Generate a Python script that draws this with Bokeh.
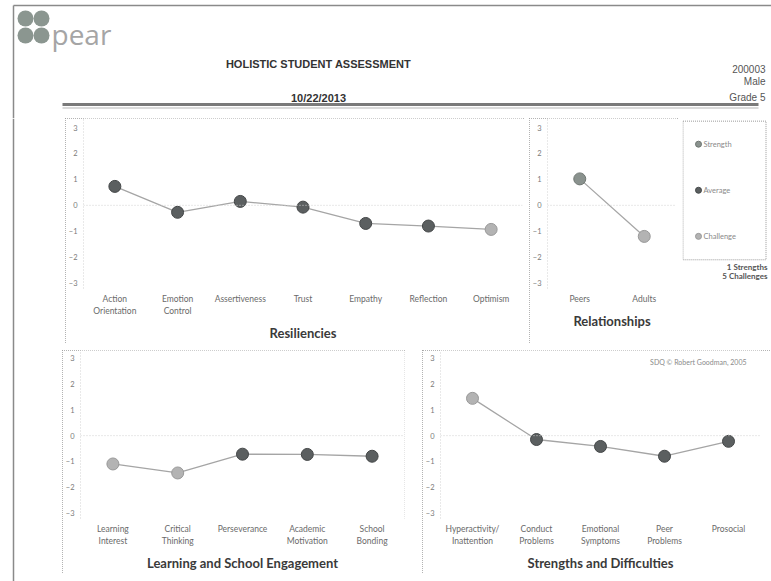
from bokeh.plotting import figure
from bokeh.layouts import row, column
from bokeh.models import Range1d, FactorRange, FixedTicker, Span
from bokeh.core.properties import value
from bokeh.embed import file_html
from bokeh.resources import INLINE

# ---------------- data ----------------
res_cats = ["Action\nOrientation", "Emotion\nControl", "Assertiveness", "Trust",
            "Empathy", "Reflection", "Optimism"]
res_vals = [0.73, -0.27, 0.15, -0.07, -0.70, -0.80, -0.93]
res_status = ["average", "average", "average", "average", "average", "average", "challenge"]

rel_cats = ["Peers", "Adults"]
rel_vals = [1.02, -1.20]
rel_status = ["strength", "challenge"]

lse_cats = ["Learning\nInterest", "Critical\nThinking", "Perseverance",
            "Academic\nMotivation", "School\nBonding"]
lse_vals = [-1.10, -1.45, -0.72, -0.73, -0.80]
lse_status = ["challenge", "challenge", "average", "average", "average"]

sdq_cats = ["Hyperactivity/\nInattention", "Conduct\nProblems", "Emotional\nSymptoms",
            "Peer\nProblems", "Prosocial"]
sdq_vals = [1.45, -0.15, -0.42, -0.80, -0.22]
sdq_status = ["challenge", "average", "average", "average", "average"]

y_ticks = [-3, -2, -1, 0, 1, 2, 3]
legend_keys = ["strength", "average", "challenge"]
legend_labels = ["Strength", "Average", "Challenge"]

header_title = "HOLISTIC STUDENT ASSESSMENT"
header_date = "10/22/2013"
student_info = ["200003", "Male", "Grade 5"]
copyright_note = "SDQ \u00a9 Robert Goodman, 2005"

# ---------------- style ----------------
COLORS = {"strength": "#8a928e", "average": "#5b5f60", "challenge": "#b3b3b3"}
EDGE = {"strength": "#6f7672", "average": "#444748", "challenge": "#999999"}
LINE_COLOR = "#a5a5a5"
FONT = "Lato"
HFONT = "Liberation Sans"
PANEL_STYLE = {"outline": "1px dotted #9a9a9a", "outline-offset": "-1px"}


def blank(width, height, margin=(0, 0, 0, 0)):
    p = figure(width=width, height=height, x_range=Range1d(0, width),
               y_range=Range1d(height, 0), x_axis_type=None, y_axis_type=None,
               output_backend="svg", toolbar_location=None, min_border=0,
               outline_line_color=None, margin=margin)
    p.grid.visible = False
    return p


def panel(cats, vals, status, title, width, height, y_lo, y_hi, margin,
          mb_left=2, mb_right=2):
    p = figure(x_range=FactorRange(*cats), y_range=Range1d(y_lo, y_hi),
               width=width, height=height, output_backend="svg",
               toolbar_location=None, min_border_left=mb_left, min_border_right=mb_right,
               min_border_top=0, min_border_bottom=4,
               outline_line_color=None, margin=margin)
    p.styles = PANEL_STYLE
    p.grid.visible = False
    ya = p.yaxis[0]
    ya.ticker = FixedTicker(ticks=y_ticks)
    ya.major_tick_line_color = None
    ya.minor_tick_line_color = None
    ya.major_tick_out = 0
    ya.major_tick_in = 0
    ya.axis_line_color = "#d2d2d2"
    ya.axis_line_dash = "1 2"
    ya.major_label_text_font = FONT
    ya.major_label_text_font_size = "7.5px"
    ya.major_label_text_color = "#7a7a7a"
    ya.major_label_standoff = 6
    xa = p.xaxis[0]
    xa.axis_line_color = None
    xa.major_tick_line_color = None
    xa.minor_tick_line_color = None
    xa.major_tick_out = 0
    xa.major_tick_in = 0
    xa.major_label_text_font = FONT
    xa.major_label_text_font_size = "8.5px"
    xa.major_label_text_color = "#6a6a6a"
    xa.major_label_standoff = 5
    xa.axis_label = title
    xa.axis_label_text_font = FONT
    xa.axis_label_text_font_style = "bold"
    xa.axis_label_text_font_size = "13px"
    xa.axis_label_text_color = "#3a3a3a"
    xa.axis_label_standoff = 6
    p.add_layout(Span(location=0, dimension="width", line_color="#d0d0d0",
                      line_dash="1 2", line_width=1))
    p.line(cats, vals, line_color=LINE_COLOR, line_width=1.3)
    p.scatter(cats, vals, size=12,
              fill_color=[COLORS[s] for s in status],
              line_color=[EDGE[s] for s in status], line_width=1)
    return p


# ---------------- header ----------------
hdr = blank(771, 118)
hdr.segment(x0=[13], y0=[5], x1=[771], y1=[5], line_color="#8a8a8a", line_width=1.5)
hdr.segment(x0=[13], y0=[5], x1=[13], y1=[118], line_color="#8a8a8a", line_width=1.5)
# logo
hdr.scatter(x=[25, 41, 25, 41], y=[18, 18, 35, 35], size=16, fill_color="#8b9690",
            line_color=None)
hdr.text(x=[51], y=[33], text=["pear"], text_font=value("Open Sans"),
         text_font_size="28px", text_color="#a5a5a5", text_baseline="alphabetic")
hdr.text(x=[318], y=[63], text=[header_title], text_font=value(HFONT),
         text_font_size="11px", text_font_style="bold", text_color="#333333",
         text_align="center", text_baseline="middle")
hdr.text(x=[318], y=[97], text=[header_date], text_font=value(HFONT),
         text_font_size="11px", text_font_style="bold", text_color="#333333",
         text_align="center", text_baseline="middle")
hdr.text(x=[765, 765, 765], y=[68, 81, 97], text=student_info, text_font=value(HFONT),
         text_font_size="10px", text_color="#555555", text_align="right",
         text_baseline="middle")
hdr.segment(x0=[62], y0=[104], x1=[758], y1=[104], line_color="#7a7a7a", line_width=3)
hdr.segment(x0=[62], y0=[107.5], x1=[758], y1=[107.5], line_color="#b5b5b5", line_width=1)

# ---------------- left strip (page border) ----------------
strip = blank(62, 463)
strip.segment(x0=[13], y0=[0], x1=[13], y1=[463], line_color="#8a8a8a", line_width=1.5)

# ---------------- panels ----------------
p_res = panel(res_cats, res_vals, res_status, "Resiliencies", 459, 225, -3.21, 3.35,
              margin=(0, 0, 0, 3))
p_rel = panel(rel_cats, rel_vals, rel_status, "Relationships", 149, 225, -3.21, 3.35,
              margin=(0, 0, 0, 5), mb_left=10)

# legend panel
leg = blank(86, 225, margin=(0, 0, 0, 4))
leg.quad(left=[0.5], right=[83.5], top=[3.5], bottom=[187], fill_color=None,
         line_color="#9a9a9a", line_dash="1 1", line_width=1)
leg_y = [34, 95, 156]
leg.scatter(x=[16, 16, 16], y=leg_y, size=6,
            fill_color=[COLORS[k] for k in legend_keys],
            line_color=[EDGE[k] for k in legend_keys])
leg.text(x=[21, 21, 21], y=leg_y, text=legend_labels, text_font=value(FONT),
         text_font_size="7.5px", text_color="#8a8a8a", text_baseline="middle")
all_status = res_status + rel_status + lse_status + sdq_status
n_str = all_status.count("strength")
n_chl = all_status.count("challenge")
leg.text(x=[85, 85], y=[197, 209], text=[f"{n_str} Strengths", f"{n_chl} Challenges"],
         text_font=value(FONT), text_font_size="8px", text_font_style="bold",
         text_color="#555555", text_align="right", text_baseline="middle")

p_lse = panel(lse_cats, lse_vals, lse_status, "Learning and School Engagement",
              343, 223, -3.22, 3.31, margin=(7, 0, 0, 0), mb_right=1)
p_sdq = panel(sdq_cats, sdq_vals, sdq_status, "Strengths and Difficulties",
              348, 223, -3.22, 3.31, margin=(7, 0, 0, 17), mb_left=8, mb_right=10)
p_sdq.text(x=[sdq_cats[-1]], y=[2.85], text=[copyright_note], x_offset=18,
           text_font=value(FONT), text_font_size="7px", text_color="#8a8a8a",
           text_align="right", text_baseline="middle")

row1 = row(p_res, p_rel, leg, spacing=0)
row2 = row(p_lse, p_sdq, spacing=0)
body = row(strip, column(row1, row2, spacing=0), spacing=0)
page = column(hdr, body, spacing=0)

open("out.html", "w").write(file_html(page, INLINE))
